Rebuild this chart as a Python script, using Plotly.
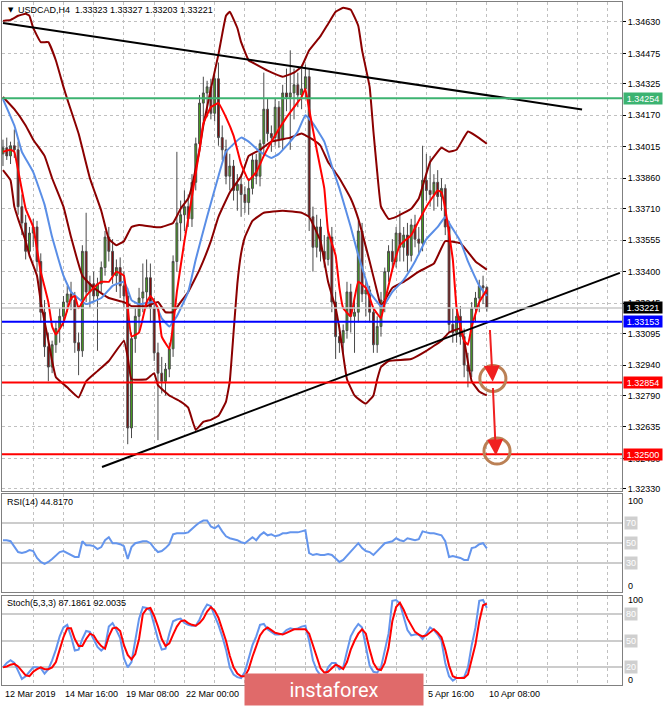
import plotly.graph_objects as go

W, H = 665, 708
LEFT, RIGHT = 2, 622
FONT = "Liberation Sans, Arial, sans-serif"


def px(v):
    return v / W


def py(v):
    return 1 - v / H


# ---------------- data (H4 bars, bar 0 = 12 Mar 2019 00:00) ----------------
opens = [1.3398, 1.3401, 1.3397, 1.3402, 1.3400, 1.3372, 1.3364, 1.3350, 1.3359, 1.3362,
         1.3345, 1.3320, 1.3303, 1.3293, 1.3304, 1.3312, 1.3318, 1.3325, 1.3329, 1.3326,
         1.3305, 1.3301, 1.3350, 1.3330, 1.3334, 1.3328, 1.3334, 1.3342, 1.3357, 1.3350,
         1.3338, 1.3342, 1.3333, 1.3328, 1.3263, 1.3307, 1.3318, 1.3327, 1.3330, 1.3337,
         1.3322, 1.3300, 1.3290, 1.3286, 1.3292, 1.3302, 1.3345, 1.3364, 1.3368, 1.3372,
         1.3366, 1.3384, 1.3403, 1.3423, 1.3428, 1.3431, 1.3418, 1.3435, 1.3406, 1.3400,
         1.3387, 1.3392, 1.3380, 1.3383, 1.3378, 1.3374, 1.3381, 1.3395, 1.3387, 1.3403,
         1.3420, 1.3408, 1.3406, 1.3421, 1.3405, 1.3428, 1.3426, 1.3428, 1.3432, 1.3427,
         1.3430, 1.3436, 1.3367, 1.3352, 1.3362, 1.3350, 1.3346, 1.3357, 1.3325, 1.3308,
         1.3305, 1.3311, 1.3330, 1.3318, 1.3320, 1.3360, 1.3329, 1.3331, 1.3320, 1.3304,
         1.3313, 1.3326, 1.3340, 1.3350, 1.3345, 1.3359, 1.3352, 1.3358, 1.3348, 1.3363,
         1.3356, 1.3354, 1.3385, 1.3380, 1.3378, 1.3384, 1.3377, 1.3381, 1.3362, 1.3314,
         1.3310, 1.3318, 1.3308, 1.3294, 1.3291, 1.3322, 1.3327, 1.3333, 1.33323]
highs = [1.3405, 1.3406, 1.3404, 1.3410, 1.3404, 1.3378, 1.3368, 1.3362, 1.3366, 1.3365,
         1.3349, 1.3326, 1.3310, 1.3306, 1.3315, 1.3322, 1.3328, 1.3333, 1.3335, 1.3330,
         1.3310, 1.3353, 1.3369, 1.3338, 1.3340, 1.3337, 1.3345, 1.3360, 1.3362, 1.3356,
         1.3346, 1.3347, 1.3340, 1.3332, 1.3310, 1.3322, 1.3332, 1.3344, 1.3346, 1.3344,
         1.3327, 1.3305, 1.3298, 1.3295, 1.3305, 1.3348, 1.3399, 1.3375, 1.3380, 1.3378,
         1.3388, 1.3406, 1.3427, 1.3436, 1.3434, 1.3435, 1.3437, 1.3443, 1.3412, 1.3405,
         1.3398, 1.3395, 1.3388, 1.3388, 1.3382, 1.3386, 1.3398, 1.3398, 1.3405, 1.3438,
         1.3425, 1.3412, 1.3425, 1.3424, 1.3432, 1.3440, 1.3449, 1.3440, 1.3438, 1.3440,
         1.3442, 1.3440, 1.3372, 1.3368, 1.3366, 1.3358, 1.3360, 1.3362, 1.3330, 1.3314,
         1.3314, 1.3335, 1.3334, 1.3327, 1.3365, 1.3364, 1.3336, 1.3333, 1.3322, 1.3318,
         1.3330, 1.3342, 1.3353, 1.3356, 1.3362, 1.3370, 1.3362, 1.3364, 1.3366, 1.3368,
         1.3362, 1.3402, 1.3398, 1.3397, 1.3388, 1.3390, 1.3386, 1.3383, 1.3365, 1.3322,
         1.3322, 1.3323, 1.3312, 1.3300, 1.3325, 1.3330, 1.3336, 1.3338, 1.33327]
lows = [1.3392, 1.3395, 1.3393, 1.3396, 1.3368, 1.3358, 1.3346, 1.3347, 1.3352, 1.3340,
        1.3315, 1.3298, 1.3286, 1.3290, 1.3300, 1.3305, 1.3313, 1.3320, 1.3321, 1.3300,
        1.3289, 1.3298, 1.3325, 1.3322, 1.3325, 1.3301, 1.3330, 1.3338, 1.3345, 1.3334,
        1.3330, 1.3327, 1.3322, 1.3255, 1.3258, 1.3300, 1.3310, 1.3320, 1.3322, 1.3315,
        1.3296, 1.3257, 1.3280, 1.3279, 1.3288, 1.3298, 1.3340, 1.3355, 1.3360, 1.3362,
        1.3362, 1.3380, 1.3398, 1.3413, 1.3416, 1.3415, 1.3414, 1.3402, 1.3395, 1.3383,
        1.3380, 1.3375, 1.3370, 1.3367, 1.3369, 1.3368, 1.3378, 1.3383, 1.3382, 1.3398,
        1.3404, 1.3399, 1.3402, 1.3401, 1.3400, 1.3419, 1.3400, 1.3415, 1.3421, 1.3420,
        1.3425, 1.3360, 1.3340, 1.3347, 1.3345, 1.3342, 1.3343, 1.3320, 1.3297, 1.3300,
        1.3300, 1.3307, 1.3310, 1.3300, 1.3315, 1.3325, 1.3318, 1.3315, 1.3300, 1.3300,
        1.3308, 1.3320, 1.3335, 1.3340, 1.3342, 1.3345, 1.3345, 1.3340, 1.3345, 1.3352,
        1.3348, 1.3350, 1.3375, 1.3372, 1.3370, 1.3372, 1.3370, 1.3358, 1.3310, 1.3305,
        1.3305, 1.3304, 1.3288, 1.3283, 1.3288, 1.3315, 1.3320, 1.3324, 1.33203]
closes = [1.3401, 1.3397, 1.3402, 1.3400, 1.3372, 1.3364, 1.3350, 1.3359, 1.3362, 1.3345,
          1.3320, 1.3303, 1.3293, 1.3304, 1.3312, 1.3318, 1.3325, 1.3329, 1.3326, 1.3305,
          1.3301, 1.3350, 1.3330, 1.3334, 1.3328, 1.3334, 1.3342, 1.3357, 1.3350, 1.3338,
          1.3342, 1.3333, 1.3328, 1.3263, 1.3307, 1.3318, 1.3327, 1.3330, 1.3337, 1.3322,
          1.3300, 1.3290, 1.3286, 1.3292, 1.3302, 1.3345, 1.3364, 1.3368, 1.3372, 1.3366,
          1.3384, 1.3403, 1.3423, 1.3428, 1.3431, 1.3418, 1.3435, 1.3406, 1.3400, 1.3387,
          1.3392, 1.3380, 1.3383, 1.3378, 1.3374, 1.3381, 1.3395, 1.3387, 1.3403, 1.3420,
          1.3408, 1.3406, 1.3421, 1.3405, 1.3428, 1.3426, 1.3428, 1.3432, 1.3427, 1.3430,
          1.3436, 1.3367, 1.3352, 1.3362, 1.3350, 1.3346, 1.3357, 1.3325, 1.3308, 1.3305,
          1.3311, 1.3330, 1.3318, 1.3320, 1.3360, 1.3329, 1.3331, 1.3320, 1.3304, 1.3313,
          1.3326, 1.3340, 1.3350, 1.3345, 1.3359, 1.3352, 1.3358, 1.3348, 1.3363, 1.3356,
          1.3354, 1.3385, 1.3380, 1.3378, 1.3384, 1.3377, 1.3381, 1.3362, 1.3314, 1.3310,
          1.3318, 1.3308, 1.3294, 1.3291, 1.3322, 1.3327, 1.3333, 1.3332, 1.33221]

# Bollinger bands (dark red) read at selected bars
bb_up_bar = [0, 2, 4, 6, 7, 8, 10, 12, 14, 16, 17, 20, 23, 26, 28, 30, 32, 34, 36, 40, 42, 45, 47, 49, 50,
             52, 53, 55, 57, 58, 59, 60, 62, 63, 65, 66, 70, 74, 77, 79, 81, 84, 86, 88, 90, 92, 94, 95,
             97, 98, 99, 100, 102, 104, 108, 110, 113, 116, 118, 120, 123, 125, 128]
bb_up = [1.34635, 1.3464, 1.3466, 1.3467, 1.3466, 1.3460, 1.3453, 1.3453, 1.3444, 1.3431, 1.3425, 1.3408,
         1.3386, 1.3370, 1.3356, 1.3353, 1.3355, 1.3362, 1.3363, 1.3362, 1.3362, 1.3364, 1.3371, 1.3376,
         1.3382, 1.3400, 1.3412, 1.3430, 1.3447, 1.3457, 1.3466, 1.3468, 1.3460, 1.3453, 1.3444, 1.3443,
         1.3439, 1.3436, 1.3438, 1.3441, 1.3449, 1.3456, 1.3462, 1.3468, 1.3470, 1.3469, 1.3461, 1.3449,
         1.3431, 1.3409, 1.3389, 1.3372, 1.3366, 1.3367, 1.3371, 1.3376, 1.3394, 1.3401, 1.3399, 1.3400,
         1.3409, 1.3407, 1.3403]
bb_mid_bar = [0, 3, 6, 8, 11, 13, 16, 18, 21, 24, 28, 32, 34, 38, 41, 43, 45, 47, 49, 52, 55, 57, 60, 63,
              64, 65, 68, 71, 76, 79, 82, 84, 86, 89, 92, 94, 97, 99, 100, 103, 106, 110, 114, 117, 121,
              125, 128]
bb_mid = [1.3426, 1.3420, 1.3412, 1.3405, 1.3397, 1.3386, 1.3372, 1.3357, 1.3338, 1.3332, 1.3327, 1.3325,
          1.3323, 1.3323, 1.3325, 1.3320, 1.3320, 1.3325, 1.3330, 1.3341, 1.3355, 1.3367, 1.3379, 1.3387,
          1.3392, 1.3397, 1.3400, 1.3404, 1.3406, 1.3408, 1.3405, 1.3402, 1.3394, 1.3386, 1.3376, 1.3366,
          1.3345, 1.3330, 1.3323, 1.3332, 1.3335, 1.3340, 1.3344, 1.3355, 1.3354, 1.3345, 1.3341]
bb_lo_bar = [0, 2, 3, 4, 6, 7, 9, 10, 12, 13, 14, 17, 20, 22, 25, 28, 32, 33, 34, 38, 40, 41, 44, 47, 49,
             51, 53, 55, 57, 59, 60, 61, 62, 63, 64, 66, 69, 74, 79, 81, 84, 85, 86, 88, 89, 90, 91, 93,
             95, 96, 98, 99, 100, 102, 108, 112, 116, 118, 121, 122, 124, 126, 128]
bb_lo = [1.3390, 1.3385, 1.3372, 1.3366, 1.3355, 1.3348, 1.3338, 1.3325, 1.3306, 1.3296, 1.3288, 1.3283,
         1.3278, 1.3286, 1.3291, 1.3296, 1.3306, 1.3298, 1.3287, 1.3287, 1.3290, 1.3284, 1.3279, 1.3276,
         1.3273, 1.3262, 1.3266, 1.3267, 1.3269, 1.3276, 1.3286, 1.3310, 1.3334, 1.3349, 1.3357, 1.3365,
         1.3369, 1.3370, 1.3369, 1.3367, 1.3355, 1.3345, 1.3335, 1.3322, 1.3312, 1.3299, 1.3287, 1.3279,
         1.3276, 1.3275, 1.3279, 1.3287, 1.3293, 1.3296, 1.3297, 1.3301, 1.3306, 1.3310, 1.3312, 1.3306,
         1.3286, 1.3281, 1.3279]

# moving averages
ma_slow_bar = [0, 3, 5, 8, 11, 13, 16, 18, 22, 26, 29, 32, 33, 34, 36, 40, 42, 44, 46, 49, 51, 54, 57, 59,
               63, 65, 68, 71, 73, 76, 78, 80, 82, 85, 87, 89, 92, 94, 96, 97, 100, 101, 103, 106, 109,
               112, 115, 117, 118, 121, 123, 126, 128]
ma_slow = [1.3425, 1.3412, 1.3399, 1.3389, 1.3373, 1.3357, 1.3338, 1.3330, 1.3324, 1.3327, 1.3333, 1.3335,
           1.3331, 1.3326, 1.3324, 1.3325, 1.3317, 1.3313, 1.3318, 1.3330, 1.3346, 1.3367, 1.3387, 1.3399,
           1.3406, 1.3404, 1.3399, 1.3396, 1.3398, 1.3404, 1.3409, 1.3417, 1.3413, 1.3404, 1.3392, 1.3381,
           1.3362, 1.3348, 1.3336, 1.3330, 1.3323, 1.3324, 1.3330, 1.3336, 1.3345, 1.3356, 1.3362, 1.3367,
           1.3364, 1.3355, 1.3345, 1.3333, 1.3328]
ma_fast_bar = [0, 2, 3, 4, 6, 8, 9, 10, 12, 13, 14, 16, 18, 19, 20, 22, 24, 26, 28, 30, 32, 33, 34, 36, 38,
               39, 41, 42, 44, 45, 46, 48, 50, 52, 53, 55, 57, 59, 61, 63, 65, 67, 69, 71, 75, 79, 80, 81,
               83, 85, 86, 88, 89, 90, 92, 93, 94, 96, 98, 100, 101, 103, 105, 108, 110, 112, 115, 116,
               117, 119, 120, 122, 123, 124, 126, 128]
ma_fast = [1.3399, 1.3400, 1.3399, 1.3390, 1.3371, 1.3362, 1.3351, 1.3340, 1.3325, 1.3313, 1.3309, 1.3315,
           1.3327, 1.3328, 1.3322, 1.3328, 1.3332, 1.3335, 1.3335, 1.3340, 1.3338, 1.3322, 1.3308, 1.3310,
           1.3325, 1.3328, 1.3322, 1.3308, 1.3302, 1.3313, 1.3330, 1.3355, 1.3377, 1.3400, 1.3413, 1.3421,
           1.3423, 1.3416, 1.3407, 1.3393, 1.3385, 1.3389, 1.3397, 1.3404, 1.3416, 1.3426, 1.3430, 1.3420,
           1.3400, 1.3381, 1.3360, 1.3348, 1.3332, 1.3322, 1.3318, 1.3327, 1.3335, 1.3332, 1.3322, 1.3317,
           1.3325, 1.3341, 1.3353, 1.3358, 1.3365, 1.3372, 1.3380, 1.3379, 1.3371, 1.3346, 1.3322, 1.3306,
           1.3304, 1.3313, 1.3325, 1.3331]

# horizontal levels and drawn trend lines
level_prices = [1.34254, 1.33153, 1.32854, 1.32500]
level_colors = ["#3cb371", "#0000ff", "#ff0000", "#ff0000"]
last_price = 1.33221
trend_down_bar = [0, 153.2]
trend_down_price = [1.34625, 1.34199]
trend_up_bar = [26.2, 163.2]
trend_up_price = [1.32438, 1.33394]
arrow_tail_bar = [128.8, 129.6]
arrow_tail_price = [1.33120, 1.32834]
arrow_head_bar = [129.55, 130.4]
arrow_head_price = [1.32858, 1.32495]
circle_bar = [129.6, 130.7]
circle_price = [1.32874, 1.32516]

price_ticks = [1.34630, 1.34475, 1.34325, 1.34170, 1.34015, 1.33860, 1.33710, 1.33555, 1.33400,
               1.33245, 1.33095, 1.32940, 1.32790, 1.32635, 1.32480, 1.32330]

rsi_vals = [53, 53, 52, 46, 41, 40, 41, 43, 42, 35,
            31, 29, 31, 34, 38, 41, 42, 40, 38, 36,
            36, 52, 48, 48, 47, 44, 46, 53, 56, 50,
            50, 49, 47, 34, 46, 50, 51, 52, 52, 50,
            45, 41, 42, 45, 49, 59, 60, 60, 60, 61,
            65, 68, 71, 73, 73, 67, 65, 68, 62, 57,
            55, 54, 53, 51, 50, 53, 56, 53, 58, 61,
            58, 59, 57, 58, 60, 60, 61, 61, 61, 62,
            63, 40, 38, 39, 38, 38, 39, 38, 34, 31,
            33, 37, 41, 45, 50, 45, 42, 41, 38, 42,
            46, 50, 51, 52, 55, 53, 52, 55, 54, 53,
            54, 62, 61, 60, 60, 59, 58, 52, 36, 37,
            36, 35, 33, 33, 45, 46, 49, 50, 44.817]
rsi_levels = [70, 50, 30]

stoch_k = [20, 25, 28, 25, 16, 7, 10, 15, 20, 20,
           19, 13, 18, 28, 40, 55, 65, 68, 55, 39,
           40, 52, 61, 60, 52, 43, 39, 43, 66, 70,
           62, 53, 30, 20, 26, 50, 75, 88, 87, 84,
           68, 52, 40, 41, 58, 72, 74, 75, 70, 68,
           67, 67, 74, 84, 91, 89, 78, 68, 55, 40,
           20, 12, 9, 8, 15, 30, 45, 55, 68, 69,
           63, 60, 57, 57, 58, 62, 64, 63, 64, 66,
           67, 50, 28, 17, 11, 9, 20, 25, 25, 18,
           20, 38, 55, 63, 69, 65, 45, 22, 15, 14,
           20, 38, 58, 95, 96, 92, 78, 62, 56, 57,
           57, 52, 58, 65, 62, 57, 50, 25, 10, 5,
           8, 8, 9, 20, 45, 65, 95, 96, 87.1861]
stoch_d = [20, 21, 23, 24, 21, 16, 11, 10, 15, 18,
           20, 18, 18, 20, 26, 40, 54, 64, 64, 52,
           44, 44, 52, 58, 56, 49, 44, 41, 55, 64,
           65, 61, 45, 34, 29, 35, 52, 80, 86, 87,
           78, 66, 52, 44, 47, 57, 66, 72, 73, 70,
           68, 67, 70, 75, 83, 88, 84, 76, 63, 50,
           33, 20, 13, 10, 10, 18, 32, 43, 56, 62,
           65, 62, 59, 58, 57, 59, 61, 63, 63, 63,
           63, 58, 45, 30, 19, 14, 15, 19, 23, 21,
           18, 26, 40, 50, 58, 63, 58, 40, 25, 18,
           17, 25, 42, 72, 88, 93, 85, 75, 68, 60,
           57, 55, 56, 60, 63, 59, 54, 40, 22, 10,
           8, 8, 8, 12, 28, 46, 72, 90, 92.0035]
stoch_levels = [80, 50, 20]

xtick_bars = [0, 16, 32, 48, 64, 80, 96, 112, 128]
xtick_labels = ["12 Mar 2019", "14 Mar 16:00", "19 Mar 08:00", "22 Mar 00:00", "26 Mar 16:00",
                "29 Mar 08:00", "3 Apr 00:00", "5 Apr 16:00", "10 Apr 08:00"]

n = len(closes)
assert len(opens) == len(highs) == len(lows) == n == len(rsi_vals) == len(stoch_k) == len(stoch_d)
bars = list(range(n))

# ---------------- figure ----------------
fig = go.Figure()

fig.add_trace(go.Candlestick(
    x=bars, open=opens, high=highs, low=lows, close=closes, xaxis="x", yaxis="y",
    increasing=dict(line=dict(color="#4a4a4a", width=1), fillcolor="#46a61c"),
    decreasing=dict(line=dict(color="#4a4a4a", width=1), fillcolor="#8b0000"),
    whiskerwidth=0, hoverinfo="skip", showlegend=False))


def add_line(xs, ys, color, width=2, xa="x", ya="y", smooth=True):
    ln = dict(color=color, width=width)
    if smooth:
        ln.update(shape="spline", smoothing=0.3)
    fig.add_trace(go.Scatter(x=xs, y=ys, mode="lines", line=ln, xaxis=xa, yaxis=ya,
                             hoverinfo="skip", showlegend=False))


add_line(bb_up_bar, bb_up, "#8b0000")
add_line(bb_mid_bar, bb_mid, "#8b0000")
add_line(bb_lo_bar, bb_lo, "#8b0000")
add_line(ma_slow_bar, ma_slow, "#5a8ee6")
add_line(ma_fast_bar, ma_fast, "#ff0000")

# trend lines
add_line(trend_down_bar, trend_down_price, "#000000", 2, smooth=False)
add_line(trend_up_bar, trend_up_price, "#000000", 2, smooth=False)

# RSI
add_line(bars, rsi_vals, "#6495ed", 2, "x2", "y2", smooth=False)
# Stochastic
add_line(bars, stoch_k, "#6495ed", 2, "x3", "y3", smooth=False)
add_line(bars, stoch_d, "#ff0000", 2, "x3", "y3", smooth=False)

# horizontal level lines
fig.add_shape(type="line", xref="paper", yref="y", x0=px(LEFT), x1=px(RIGHT),
              y0=last_price, y1=last_price, line=dict(color="#c8c8c8", width=1.5))
for p, c in zip(level_prices, level_colors):
    fig.add_shape(type="line", xref="paper", yref="y", x0=px(LEFT), x1=px(RIGHT),
                  y0=p, y1=p, line=dict(color=c, width=2))

# circles
rx, ry = 3.45, 0.00064
for cb, cp in zip(circle_bar, circle_price):
    fig.add_shape(type="circle", xref="x", yref="y", x0=cb - rx, x1=cb + rx, y0=cp - ry, y1=cp + ry,
                  line=dict(color="#bb8055", width=3))

# arrows
for tb, tp, hb, hp in zip(arrow_tail_bar, arrow_tail_price, arrow_head_bar, arrow_head_price):
    fig.add_annotation(x=hb, y=hp, ax=tb, ay=tp, xref="x", yref="y", axref="x", ayref="y",
                       text="", showarrow=True, arrowhead=2, arrowsize=1.6, arrowwidth=2,
                       arrowcolor="#f02020")

grid = dict(showgrid=True, gridcolor="#c0c0c0", gridwidth=1, griddash="3px,3px")
xcommon = dict(domain=[px(LEFT), px(RIGHT)], range=[-0.26, 163.76], tick0=0, dtick=8,
               showticklabels=False, ticks="", zeroline=False, showline=True, mirror=True,
               linecolor="#808080", linewidth=1, fixedrange=True, **grid)

fig.update_layout(
    width=W, height=H, margin=dict(l=0, r=0, t=0, b=0),
    paper_bgcolor="white", plot_bgcolor="white", showlegend=False,
    font=dict(family=FONT, size=9, color="black"),
    xaxis=dict(anchor="y", rangeslider=dict(visible=False), **xcommon),
    xaxis2=dict(anchor="y2", **xcommon),
    xaxis3=dict(anchor="y3", **xcommon),
    yaxis=dict(anchor="x", domain=[py(493), py(2)], range=[1.32320, 1.34728], side="right",
               tickvals=price_ticks, ticktext=[f"{v:.5f}" for v in price_ticks],
               tickfont=dict(size=9, color="black", family=FONT), ticks="outside", ticklen=3,
               tickcolor="black", zeroline=False, showline=True, mirror=True, linecolor="#808080",
               fixedrange=True, **grid),
    yaxis2=dict(anchor="x2", domain=[py(595), py(496)], range=[0, 100], side="right",
                tickvals=rsi_levels, showticklabels=False, ticks="", showgrid=True,
                gridcolor="#cccccc", gridwidth=2, zeroline=False, showline=True, mirror=True,
                linecolor="#808080", fixedrange=True),
    yaxis3=dict(anchor="x3", domain=[py(688), py(599)], range=[0, 100], side="right",
                tickvals=stoch_levels, showticklabels=False, ticks="", showgrid=True,
                gridcolor="#cccccc", gridwidth=2, zeroline=False, showline=True, mirror=True,
                linecolor="#808080", fixedrange=True),
)

# right-side price boxes
boxes = [(1.34254, "#3cb371"), (last_price, "#000000"), (1.33153, "#0000ff"),
         (1.32854, "#ff0000"), (1.32500, "#ff0000")]
for p, c in boxes:
    fig.add_annotation(xref="paper", yref="y", x=px(623), y=p, xanchor="left", yanchor="middle",
                       text=f"{p:.5f}", showarrow=False, bgcolor=c, width=38, height=11,
                       borderpad=0, font=dict(size=9, color="white", family=FONT))

# indicator level labels
for v in rsi_levels:
    fig.add_annotation(xref="paper", yref="y2", x=px(624), y=v, xanchor="left", yanchor="middle",
                       text=str(v), showarrow=False, bgcolor="#cfcfcf", borderpad=1,
                       font=dict(size=9, color="white", family=FONT))
for v in stoch_levels:
    fig.add_annotation(xref="paper", yref="y3", x=px(624), y=v, xanchor="left", yanchor="middle",
                       text=str(v), showarrow=False, bgcolor="#cfcfcf", borderpad=1,
                       font=dict(size=9, color="white", family=FONT))
for txt, yy in [("100", 503), ("0", 588), ("100", 603), ("0", 683)]:
    fig.add_annotation(xref="paper", yref="paper", x=px(626), y=py(yy), xanchor="left",
                       yanchor="middle", text=txt, showarrow=False,
                       font=dict(size=9, color="black", family=FONT))

# titles
fig.add_annotation(xref="paper", yref="paper", x=px(6), y=py(10), xanchor="left", yanchor="middle",
                   text="▼", showarrow=False, font=dict(size=7, color="black", family="DejaVu Sans"))
fig.add_annotation(xref="paper", yref="paper", x=px(16), y=py(10), xanchor="left", yanchor="middle",
                   text="USDCAD,H4&nbsp;&nbsp;1.33323 1.33327 1.33203 1.33221", showarrow=False,
                   font=dict(size=9, color="black", family=FONT))
fig.add_annotation(xref="paper", yref="paper", x=px(5), y=py(504), xanchor="left", yanchor="middle",
                   text="RSI(14) 44.8170", showarrow=False, font=dict(size=9, color="black", family=FONT))
fig.add_annotation(xref="paper", yref="paper", x=px(5), y=py(606), xanchor="left", yanchor="middle",
                   text="Stoch(5,3,3) 87.1861 92.0035", showarrow=False,
                   font=dict(size=9, color="black", family=FONT))

# time labels
for b, lab in zip(xtick_bars, xtick_labels):
    fig.add_annotation(xref="x3", yref="paper", x=b, y=py(697), xanchor="left", yanchor="middle",
                       text=lab, showarrow=False, font=dict(size=9, color="black", family=FONT))

# watermark banner (drawn last so it covers the labels beneath)
fig.add_annotation(xref="paper", yref="paper", x=px(334), y=py(692.5), xanchor="center",
                   yanchor="middle", text="instaforex", showarrow=False, bgcolor="#e06a6a",
                   width=178, height=31, borderpad=0,
                   font=dict(size=20, color="white", family="Roboto"))

fig.write_html("out.html", config={"displayModeBar": False, "staticPlot": True},
               post_script="document.body.style.margin='0';document.body.style.padding='0';"
                           "document.body.style.overflow='hidden';")
